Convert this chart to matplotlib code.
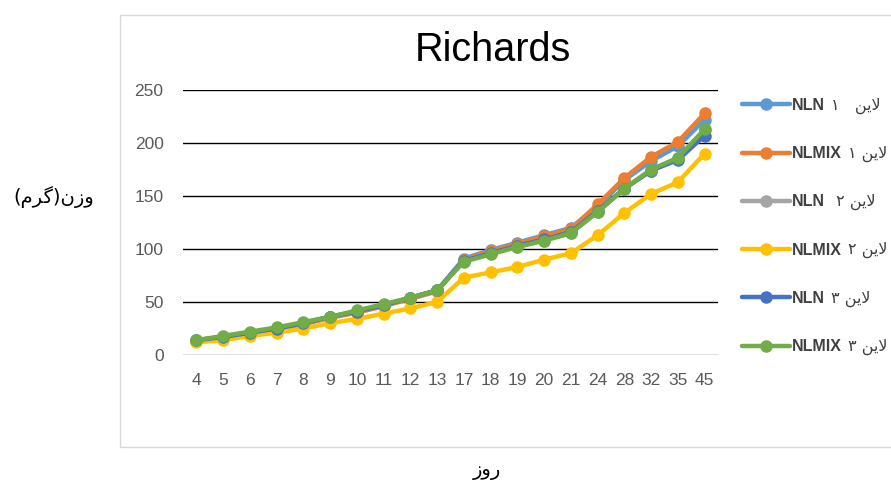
import matplotlib
matplotlib.use("Agg")
import matplotlib.pyplot as plt
from matplotlib.patches import Rectangle

plt.rcParams['font.family'] = ['Liberation Sans', 'DejaVu Sans']

days = ['4', '5', '6', '7', '8', '9', '10', '11', '12', '13',
        '17', '18', '19', '20', '21', '24', '28', '32', '35', '45']

nln1 = [13, 17, 21, 25, 30, 36, 41, 47, 54, 61, 91, 99, 106, 113, 120, 140, 165, 183, 197, 222]
nlmix1 = [13, 16, 20, 24, 29, 35, 40, 46, 53, 60, 90, 98, 105, 112, 119, 142, 167, 187, 201, 228]
nln2 = [14, 17, 21, 25, 30, 36, 41, 47, 54, 61, 89, 96, 102, 108, 115, 135, 157, 174, 186, 212]
nlmix2 = [12, 14, 18, 21, 25, 30, 34, 39, 44, 50, 73, 78, 83, 90, 96, 113, 134, 152, 163, 190]
nln3 = [14, 17, 21, 25, 30, 36, 41, 47, 54, 61, 89, 96, 103, 109, 116, 136, 157, 174, 184, 207]
nlmix3 = [14, 18, 22, 26, 31, 36, 42, 48, 54, 61, 88, 95, 102, 108, 115, 135, 157, 175, 186, 213]

# Persian text given in visual (left-to-right) order with presentation forms
laayn = "\uFEE6\uFBFE\uFEFB"
model_labels = ["NLN", "NLMIX", "NLN", "NLMIX", "NLN", "NLMIX"]
line_suffix = ["\u06F1   " + laayn, "\u06F1 " + laayn, " \u06F2 " + laayn,
               "\u06F2 " + laayn, "\u06F3 " + laayn, "\u06F3 " + laayn]
ylabel_txt = "(\uFEE1\uFEAE\uFB94)\uFEE5\uFEAF\uFEED"
xlabel_txt = "\uFEAF\uFEED\uFEAD"
title_txt = "Richards"

series = [nln1, nlmix1, nln2, nlmix2, nln3, nlmix3]
colors = ['#5B9BD5', '#ED7D31', '#A5A5A5', '#FFC000', '#4472C4', '#70AD47']

W, H = 891, 482
fig = plt.figure(figsize=(W / 100, H / 100), dpi=100)
fig.patch.set_facecolor('white')

# outer chart border
fig.patches.append(Rectangle((120 / W, 1 - 447 / H), (W + 5 - 120) / W, (447 - 15) / H,
                             transform=fig.transFigure, fill=False, edgecolor='#d9d9d9',
                             linewidth=1.0, zorder=0))

ax = fig.add_axes([183 / W, 1 - 355 / H, (718 - 183) / W, (355 - 90) / H])
x = list(range(len(days)))
for vals, c, lab in zip(series, colors, model_labels):
    ax.plot(x, vals, color=c, linewidth=3.2, marker='o', markersize=8, label=lab,
            solid_capstyle='round')

ax.set_xlim(-0.5, len(days) - 0.5)
ax.set_ylim(0, 250)
ax.set_yticks([0, 50, 100, 150, 200, 250])
ax.set_xticks(x)
ax.set_xticklabels(days)
for s in ax.spines.values():
    s.set_visible(False)
ax.tick_params(axis='both', length=0, colors='#595959', labelsize=12.5)
ax.tick_params(axis='y', pad=14)
ax.tick_params(axis='x', pad=13)
for yv in [50, 100, 150, 200, 250]:
    ax.axhline(yv, color='black', linewidth=1.0, zorder=0)
ax.axhline(0, color='#d9d9d9', linewidth=1.2, zorder=0)

fig.text(493 / W, 1 - 50 / H, title_txt, ha='center', va='center', fontsize=28.5, color='black')
fig.text(54 / W, 1 - 197 / H, ylabel_txt, ha='center', va='center', fontsize=14,
         color='black', family=['DejaVu Sans'])
fig.text(487 / W, 1 - 470 / H, xlabel_txt, ha='center', va='center', fontsize=14,
         color='black', family=['DejaVu Sans'])

leg = ax.legend(loc='upper left', bbox_to_anchor=(742 / W, 1 - 98 / H),
                bbox_transform=fig.transFigure, frameon=False, borderpad=0,
                borderaxespad=0, handlelength=3.0, handletextpad=0.15,
                labelspacing=2.08, prop={'size': 11.5, 'weight': 'bold',
                                         'family': ['Liberation Sans', 'DejaVu Sans']})
for t in leg.get_texts():
    t.set_color('#404040')

fig.canvas.draw()
inv = fig.transFigure.inverted()
for t, suf in zip(leg.get_texts(), line_suffix):
    bb = t.get_window_extent()
    x1, y0 = inv.transform((bb.x1 + 6, (bb.y0 + bb.y1) / 2))
    fig.text(x1, y0, suf, ha='left', va='center', fontsize=11.5, color='#404040',
             family=['DejaVu Sans'])

fig.savefig('out.png', dpi=100, facecolor='white')
